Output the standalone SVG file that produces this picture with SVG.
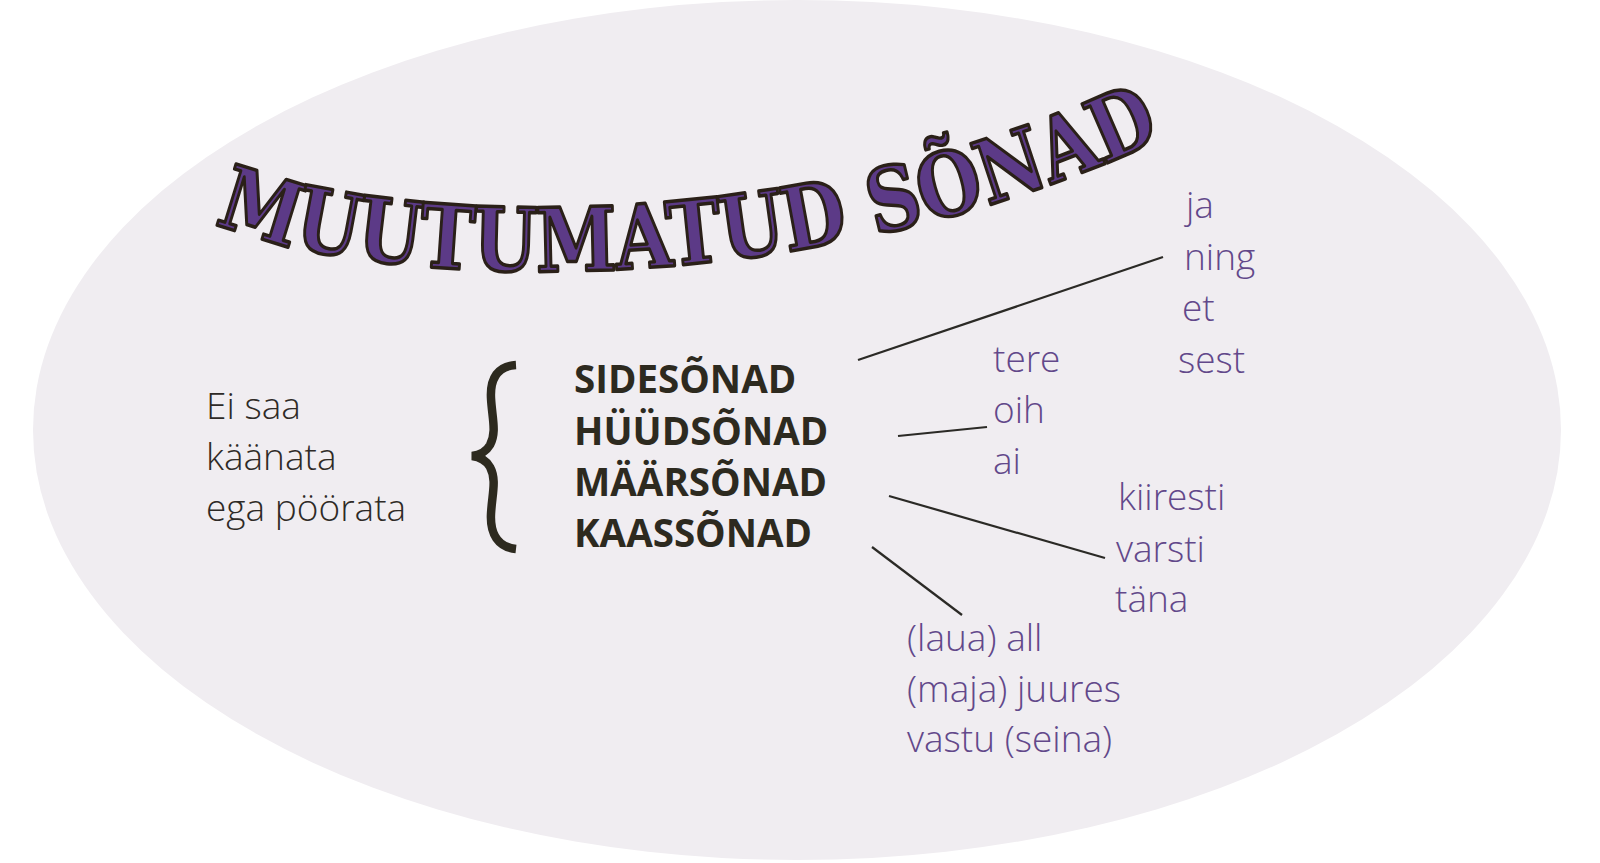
<svg xmlns="http://www.w3.org/2000/svg" width="1600" height="863" viewBox="0 0 1600 863">
<defs>
<style>
.lt{font-family:"Open Sans","Liberation Sans",sans-serif;font-weight:300;font-size:37px;fill:#2e2a26}
.pu{font-family:"Open Sans","Liberation Sans",sans-serif;font-weight:300;font-size:37px;fill:#62488a}
.bd{font-family:"Open Sans","Liberation Sans",sans-serif;font-weight:700;font-size:38.5px;fill:#2d2a1f}
.ttl{font-family:"DejaVu Serif","Liberation Serif",serif;font-weight:700;font-size:88px;fill:#5c3a87;stroke:#2a2018;stroke-width:3.5;stroke-linejoin:round}
.con{stroke:#2b2a26;stroke-width:2.2;fill:none}
</style>
<path id="arc" d="M215,222 C340,280 770,322 1168,136"/>
</defs>
<rect width="1600" height="863" fill="#ffffff"/>
<ellipse cx="797" cy="430" rx="764" ry="430" fill="#f0edf1"/>
<g id="title"><text class="ttl"><textPath href="#arc" textLength="972" lengthAdjust="spacingAndGlyphs">MUUTUMATUD SÕNAD</textPath></text></g>
<g id="left"><text class="lt" x="206" y="419">Ei saa</text><text class="lt" x="206" y="470">käänata</text><text class="lt" x="206" y="521">ega pöörata</text></g>
<g id="brace"><path d="M516,365 C498,366 490,378 491,398 C492,418 497,432 490,445 C486,452 480,455 472,456 C480,457 486,460 490,467 C497,480 492,494 491,514 C490,534 498,547 516,549" fill="none" stroke="#2d2a1f" stroke-width="8.5"/></g>
<g id="classes">
<text class="bd" x="574" y="393">SIDESÕNAD</text>
<text class="bd" x="574" y="445">HÜÜDSÕNAD</text>
<text class="bd" x="574" y="496">MÄÄRSÕNAD</text>
<text class="bd" x="574" y="547">KAASSÕNAD</text>
</g>
<g id="connectors">
<line class="con" x1="858" y1="360" x2="1163" y2="257"/>
<line class="con" x1="898" y1="436" x2="987" y2="427"/>
<line class="con" x1="889" y1="496" x2="1105" y2="558"/>
<line class="con" x1="872" y1="547" x2="962" y2="615"/>
</g>
<g id="sides"><text class="pu" x="1186" y="218">ja</text><text class="pu" x="1184" y="270">ning</text><text class="pu" x="1182" y="321">et</text><text class="pu" x="1178" y="373">sest</text></g>
<g id="hyyd"><text class="pu" x="993" y="372">tere</text><text class="pu" x="993" y="423">oih</text><text class="pu" x="993" y="474">ai</text></g>
<g id="maar"><text class="pu" x="1118" y="510">kiiresti</text><text class="pu" x="1116" y="562">varsti</text><text class="pu" x="1115" y="612">täna</text></g>
<g id="kaas"><text class="pu" x="907" y="651">(laua) all</text><text class="pu" x="907" y="702">(maja) juures</text><text class="pu" x="907" y="752">vastu (seina)</text></g>
</svg>
